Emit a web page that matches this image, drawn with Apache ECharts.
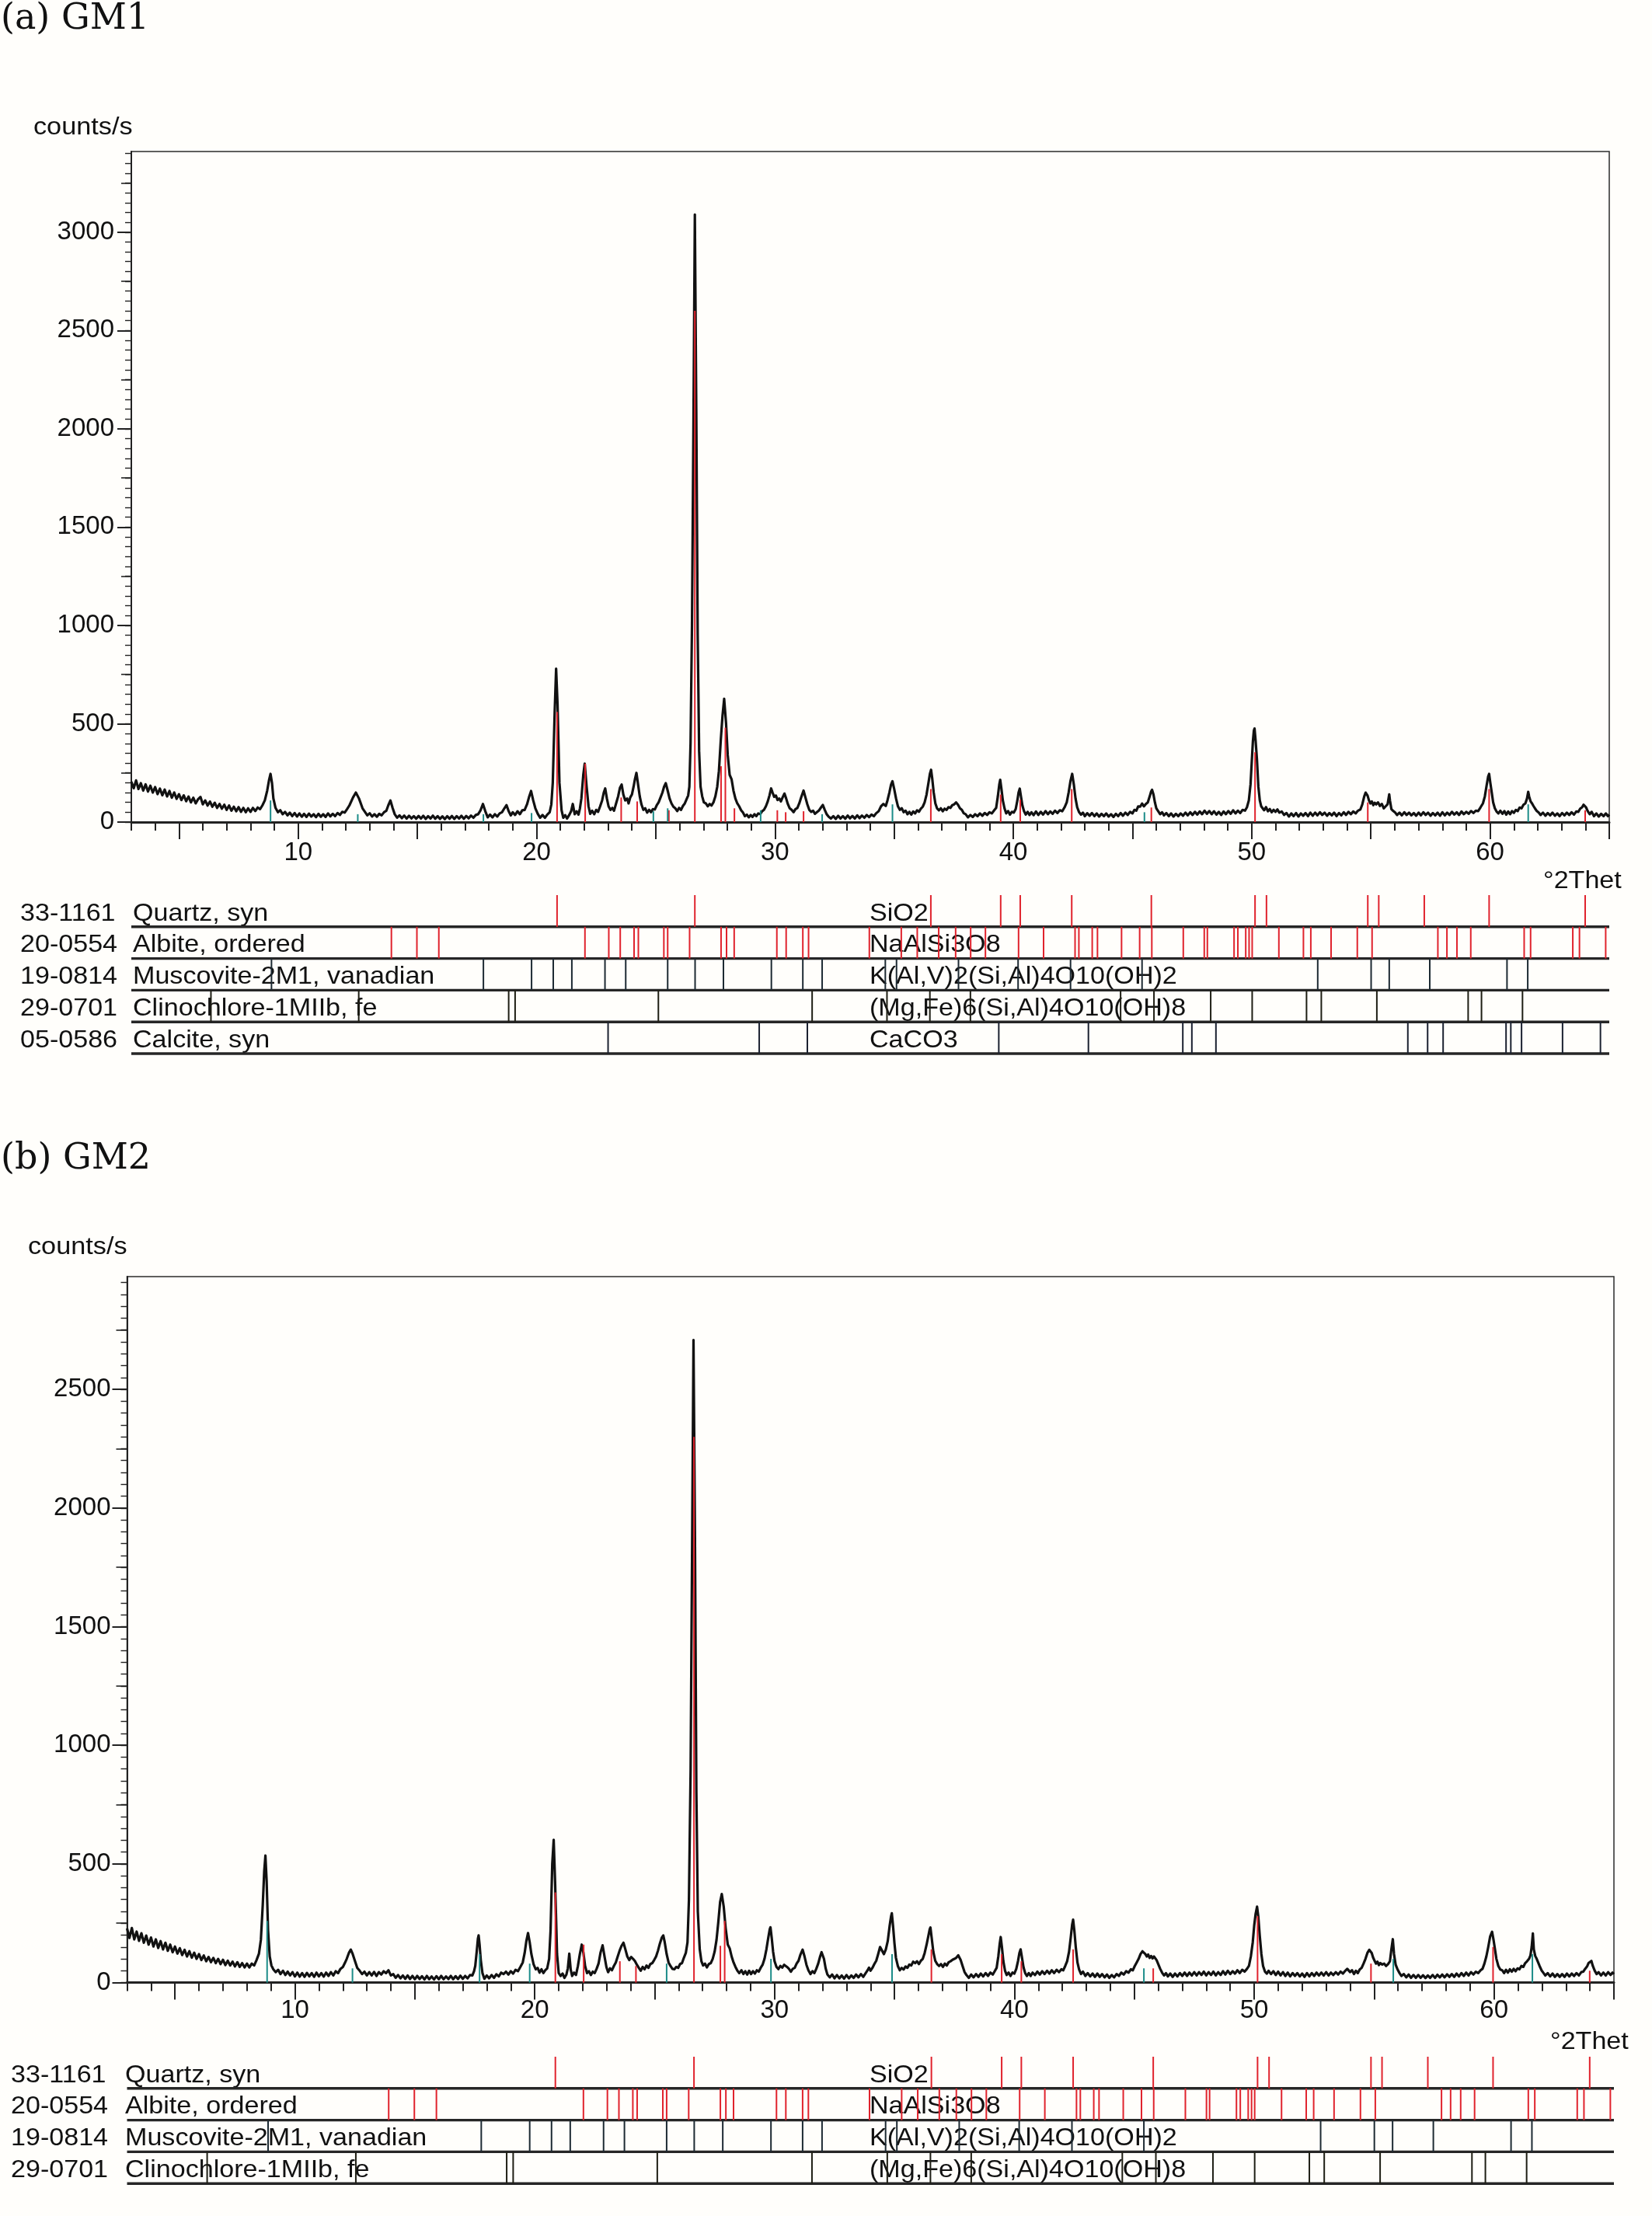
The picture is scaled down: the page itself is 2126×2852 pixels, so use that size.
<!DOCTYPE html>
<html><head><meta charset="utf-8">
<script src="https://cdn.jsdelivr.net/npm/echarts@6/dist/echarts.min.js"></script>
<style>html,body{margin:0;padding:0;background:#fffefb;}#c{width:2126px;height:2852px;}</style>
</head><body><div id="c"></div>
<script>
// ---------------- DATA ----------------
const xMin = 3, xMax = 65;
const xLabels = [10, 20, 30, 40, 50, 60];
const xMajorTicks = [5, 10, 15, 20, 25, 30, 35, 40, 45, 50, 55, 60, 65];
const yLabelsA = [0, 500, 1000, 1500, 2000, 2500, 3000];
const yMidA = [250, 750, 1250, 1750, 2250, 2750, 3250];
const yMaxA = 3410;
const yLabelsB = [0, 500, 1000, 1500, 2000, 2500];
const yMidB = [250, 750, 1250, 1750, 2250, 2750];
const yMaxB = 2975;

// GM1 pattern: flat list of (2theta, counts/s)
const gm1 = [
3.0,205, 3.1,172, 3.2,212, 3.3,168, 3.4,198, 3.5,160, 3.6,192, 3.7,155, 3.8,185, 3.9,150, 4.0,178, 4.1,142, 4.2,170, 4.3,136, 4.4,165,
4.5,130, 4.6,158, 4.7,124, 4.8,150, 4.9,118, 5.0,142, 5.1,112, 5.2,136, 5.3,106, 5.4,130, 5.5,100, 5.6,124, 5.7,95, 5.8,116, 5.9,128,
6.0,90, 6.1,110, 6.2,84, 6.3,104, 6.4,78, 6.5,98, 6.6,72, 6.7,92, 6.8,68, 6.9,88, 7.0,62, 7.1,84, 7.2,58, 7.3,78, 7.4,55, 7.5,76, 7.6,52,
7.7,72, 7.8,50, 7.9,70, 8.0,52, 8.1,72, 8.2,56, 8.3,74, 8.4,66, 8.5,85, 8.6,110, 8.7,160, 8.78,215, 8.84,245, 8.9,200, 8.96,120, 9.05,72,
9.15,50, 9.25,60, 9.35,40, 9.45,52, 9.55,34, 9.65,48, 9.75,30, 9.85,46, 9.95,28, 10.05,44, 10.15,27, 10.25,42, 10.35,26, 10.45,43,
10.55,28, 10.65,40, 10.75,25, 10.85,42, 10.95,27, 11.05,40, 11.15,26, 11.25,44, 11.35,29, 11.45,42, 11.55,30, 11.65,46, 11.75,36,
11.85,52, 11.95,48, 12.05,66, 12.15,85, 12.3,125, 12.42,150, 12.55,120, 12.7,70, 12.8,52, 12.9,34, 13.0,45, 13.1,28, 13.2,40, 13.3,27,
13.4,42, 13.5,34, 13.6,50, 13.7,58, 13.78,85, 13.87,110, 13.96,72, 14.05,40, 14.15,22, 14.25,34, 14.35,20, 14.45,33, 14.55,18, 14.65,32,
14.75,19, 14.85,30, 14.95,17, 15.05,31, 15.15,18, 15.25,32, 15.35,16, 15.45,30, 15.55,18, 15.65,33, 15.75,17, 15.85,30, 15.95,16,
16.05,29, 16.15,15, 16.25,30, 16.35,17, 16.45,31, 16.55,16, 16.65,30, 16.75,18, 16.85,32, 16.95,17, 17.05,31, 17.15,19, 17.25,33,
17.35,22, 17.45,36, 17.55,40, 17.65,60, 17.75,92, 17.85,55, 17.95,24, 18.05,38, 18.15,24, 18.25,40, 18.35,28, 18.45,44, 18.55,50,
18.65,70, 18.74,86, 18.83,55, 18.92,34, 19.0,50, 19.1,36, 19.2,55, 19.3,40, 19.4,60, 19.5,62, 19.6,90, 19.68,125, 19.77,158, 19.86,110,
19.95,70, 20.05,42, 20.15,22, 20.25,36, 20.35,22, 20.45,38, 20.55,50, 20.62,90, 20.68,200, 20.76,560, 20.82,780, 20.88,600, 20.96,200,
21.05,60, 21.12,22, 21.2,35, 21.28,18, 21.36,34, 21.45,55, 21.52,92, 21.6,40, 21.68,55, 21.76,38, 21.82,70, 21.88,120, 21.96,240,
22.02,297, 22.1,180, 22.18,80, 22.25,42, 22.33,58, 22.42,40, 22.5,62, 22.58,52, 22.66,78, 22.75,110, 22.82,150, 22.88,171, 22.95,120,
23.02,80, 23.1,62, 23.18,72, 23.25,58, 23.33,92, 23.42,130, 23.5,175, 23.57,191, 23.64,140, 23.72,110, 23.8,120, 23.86,95, 23.93,125,
24.0,140, 24.07,180, 24.13,220, 24.19,250, 24.26,190, 24.33,130, 24.4,90, 24.48,62, 24.56,70, 24.64,48, 24.72,62, 24.8,50, 24.88,66,
24.96,64, 25.04,85, 25.12,100, 25.2,125, 25.28,150, 25.35,180, 25.42,198, 25.5,160, 25.58,120, 25.66,95, 25.74,78, 25.82,70, 25.9,56,
25.98,72, 26.06,62, 26.14,82, 26.22,95, 26.3,118, 26.36,135, 26.41,180, 26.46,400, 26.52,1000, 26.58,2000, 26.64,3090, 26.7,2100,
26.76,950, 26.82,360, 26.88,180, 26.95,130, 27.02,100, 27.1,95, 27.18,80, 27.26,92, 27.34,84, 27.42,100, 27.5,130, 27.58,180, 27.65,260,
27.73,420, 27.8,540, 27.87,627, 27.95,500, 28.02,340, 28.1,240, 28.18,218, 28.26,160, 28.34,120, 28.42,95, 28.5,80, 28.58,60, 28.66,48,
28.74,30, 28.82,38, 28.9,24, 28.98,36, 29.06,26, 29.14,40, 29.22,30, 29.3,44, 29.38,40, 29.46,55, 29.54,62, 29.62,80, 29.7,105, 29.77,135,
29.84,171, 29.9,150, 29.97,128, 30.04,135, 30.11,112, 30.18,120, 30.25,105, 30.32,125, 30.4,145, 30.47,120, 30.54,92, 30.62,70, 30.7,62,
30.78,50, 30.86,66, 30.94,72, 31.02,95, 31.1,125, 31.2,160, 31.28,125, 31.36,90, 31.44,62, 31.52,52, 31.6,58, 31.68,42, 31.76,50,
31.84,58, 31.92,72, 32.01,87, 32.09,62, 32.17,40, 32.25,28, 32.35,18, 32.45,30, 32.55,16, 32.65,32, 32.75,18, 32.85,30, 32.95,17,
33.05,33, 33.15,19, 33.25,31, 33.35,18, 33.45,34, 33.55,20, 33.65,33, 33.75,22, 33.85,36, 33.95,25, 34.05,38, 34.15,30, 34.25,45,
34.35,55, 34.45,80, 34.55,92, 34.65,82, 34.72,110, 34.8,150, 34.87,190, 34.93,208, 35.0,170, 35.08,120, 35.16,80, 35.24,62, 35.32,70,
35.4,50, 35.48,58, 35.56,40, 35.64,52, 35.72,38, 35.8,54, 35.88,44, 35.96,60, 36.04,52, 36.12,68, 36.2,78, 36.28,100, 36.36,140,
36.44,200, 36.5,245, 36.55,266, 36.6,220, 36.66,150, 36.73,95, 36.8,70, 36.88,60, 36.96,70, 37.04,55, 37.12,68, 37.2,62, 37.28,76,
37.36,72, 37.44,86, 37.52,90, 37.6,100, 37.68,88, 37.76,70, 37.84,62, 37.92,45, 38.0,40, 38.1,24, 38.2,36, 38.3,26, 38.4,40, 38.5,30,
38.6,44, 38.7,32, 38.8,46, 38.9,36, 39.0,50, 39.1,44, 39.2,60, 39.28,72, 39.35,130, 39.41,190, 39.45,215, 39.5,170, 39.56,110, 39.63,70,
39.7,44, 39.78,56, 39.86,38, 39.94,52, 40.02,48, 40.1,66, 40.17,110, 40.22,150, 40.27,170, 40.32,130, 40.38,85, 40.45,55, 40.52,38,
40.6,52, 40.68,36, 40.76,50, 40.85,35, 40.95,54, 41.05,36, 41.15,52, 41.25,38, 41.35,56, 41.45,40, 41.55,54, 41.65,42, 41.75,58,
41.85,46, 41.95,60, 42.05,55, 42.15,75, 42.24,100, 42.32,150, 42.4,210, 42.47,245, 42.54,190, 42.61,120, 42.68,75, 42.76,50, 42.84,38,
42.92,48, 43.0,30, 43.1,45, 43.2,32, 43.3,46, 43.4,30, 43.5,44, 43.6,28, 43.7,42, 43.8,30, 43.9,44, 44.0,28, 44.1,40, 44.2,26, 44.3,42,
44.4,30, 44.5,46, 44.6,32, 44.7,48, 44.8,36, 44.9,52, 45.0,44, 45.08,62, 45.16,58, 45.24,80, 45.32,78, 45.4,94, 45.48,80, 45.56,92,
45.64,100, 45.72,130, 45.78,155, 45.82,164, 45.88,140, 45.94,100, 46.0,70, 46.08,55, 46.16,40, 46.24,50, 46.32,34, 46.42,46, 46.52,30,
46.62,44, 46.72,28, 46.82,42, 46.92,30, 47.02,44, 47.12,32, 47.22,48, 47.32,34, 47.42,50, 47.52,36, 47.62,52, 47.72,38, 47.82,54,
47.92,40, 48.02,58, 48.12,42, 48.22,56, 48.32,40, 48.42,55, 48.52,38, 48.62,52, 48.72,36, 48.82,54, 48.92,40, 49.02,56, 49.12,42,
49.22,60, 49.32,44, 49.42,58, 49.52,46, 49.62,62, 49.72,58, 49.8,75, 49.88,110, 49.95,190, 50.0,300, 50.05,410, 50.09,465, 50.12,476,
50.16,420, 50.22,320, 50.28,180, 50.34,110, 50.4,80, 50.46,74, 50.52,60, 50.6,76, 50.68,55, 50.76,66, 50.84,50, 50.92,62, 51.0,52,
51.08,64, 51.16,48, 51.26,54, 51.36,36, 51.46,46, 51.56,28, 51.66,44, 51.76,30, 51.86,46, 51.96,28, 52.06,44, 52.16,32, 52.26,46,
52.36,30, 52.46,48, 52.56,32, 52.66,48, 52.76,34, 52.86,50, 52.96,36, 53.06,48, 53.16,32, 53.26,46, 53.36,34, 53.46,48, 53.56,30,
53.66,46, 53.76,34, 53.86,50, 53.96,36, 54.06,52, 54.16,40, 54.26,54, 54.36,44, 54.46,58, 54.56,64, 54.64,90, 54.72,130, 54.78,150,
54.81,154, 54.86,135, 54.92,110, 54.98,95, 55.04,105, 55.1,86, 55.16,98, 55.22,90, 55.3,100, 55.38,82, 55.46,92, 55.54,70, 55.62,80,
55.7,90, 55.74,120, 55.77,141, 55.8,110, 55.86,66, 55.94,56, 56.02,48, 56.1,36, 56.2,48, 56.3,34, 56.4,50, 56.5,36, 56.6,48, 56.7,34,
56.8,46, 56.9,32, 57.0,48, 57.1,34, 57.2,50, 57.3,36, 57.4,48, 57.5,32, 57.6,46, 57.7,34, 57.8,48, 57.9,32, 58.0,50, 58.1,34, 58.2,48,
58.3,36, 58.4,52, 58.5,38, 58.6,50, 58.7,36, 58.8,54, 58.9,40, 59.0,52, 59.1,42, 59.2,56, 59.3,46, 59.4,58, 59.5,56, 59.6,75, 59.7,95,
59.78,130, 59.86,190, 59.92,232, 59.96,245, 60.01,200, 60.07,150, 60.13,100, 60.2,70, 60.27,54, 60.35,44, 60.43,58, 60.52,42, 60.6,56,
60.68,38, 60.76,54, 60.84,40, 60.92,56, 61.0,47, 61.08,62, 61.16,56, 61.24,74, 61.32,70, 61.4,88, 61.48,95, 61.55,120, 61.6,154,
61.64,130, 61.7,105, 61.76,95, 61.82,82, 61.88,70, 61.96,56, 62.04,48, 62.12,36, 62.22,48, 62.32,32, 62.42,46, 62.52,34, 62.62,48,
62.72,32, 62.82,44, 62.92,30, 63.02,46, 63.12,34, 63.22,48, 63.32,36, 63.42,50, 63.52,38, 63.62,54, 63.7,52, 63.78,68, 63.86,75,
63.92,88, 63.96,90, 64.02,76, 64.1,55, 64.18,40, 64.26,52, 64.36,30, 64.46,44, 64.56,28, 64.66,42, 64.76,30, 64.86,44, 64.94,30, 65.0,38
];

// GM2 pattern
const gm2 = [
3.0,228, 3.1,188, 3.2,230, 3.3,182, 3.4,215, 3.5,176, 3.6,208, 3.7,168, 3.8,198, 3.9,160, 4.0,190, 4.1,152, 4.2,182, 4.3,146, 4.4,175,
4.5,140, 4.6,168, 4.7,134, 4.8,160, 4.9,128, 5.0,152, 5.1,122, 5.2,145, 5.3,116, 5.4,138, 5.5,110, 5.6,132, 5.7,105, 5.8,126, 5.9,100,
6.0,120, 6.1,95, 6.2,114, 6.3,90, 6.4,108, 6.5,86, 6.6,104, 6.7,82, 6.8,100, 6.9,78, 7.0,96, 7.1,74, 7.2,92, 7.3,72, 7.4,88, 7.5,68,
7.6,86, 7.7,66, 7.8,82, 7.9,64, 8.0,80, 8.1,64, 8.2,80, 8.3,72, 8.4,95, 8.5,122, 8.58,180, 8.66,330, 8.72,470, 8.77,535, 8.82,430,
8.88,220, 8.95,110, 9.02,72, 9.1,56, 9.2,44, 9.3,54, 9.4,36, 9.5,50, 9.6,32, 9.7,46, 9.8,30, 9.9,44, 10.0,26, 10.1,42, 10.2,25, 10.3,40,
10.4,24, 10.5,41, 10.6,26, 10.7,40, 10.8,24, 10.9,42, 11.0,26, 11.1,40, 11.2,25, 11.3,42, 11.4,28, 11.5,44, 11.6,30, 11.7,48, 11.8,40,
11.9,58, 12.0,66, 12.08,82, 12.16,100, 12.25,125, 12.33,139, 12.41,120, 12.5,92, 12.6,62, 12.7,50, 12.8,36, 12.9,46, 13.0,30, 13.1,44,
13.2,30, 13.3,45, 13.4,28, 13.5,44, 13.6,34, 13.7,48, 13.8,40, 13.9,52, 14.0,30, 14.1,36, 14.2,20, 14.3,32, 14.4,18, 14.5,30, 14.6,16,
14.7,30, 14.8,15, 14.9,28, 15.0,14, 15.1,28, 15.2,15, 15.3,27, 15.4,13, 15.5,28, 15.6,14, 15.7,26, 15.8,13, 15.9,27, 16.0,14, 16.1,28,
16.2,14, 16.3,26, 16.4,15, 16.5,28, 16.6,14, 16.7,27, 16.8,15, 16.9,29, 17.0,16, 17.1,28, 17.2,18, 17.3,32, 17.4,30, 17.47,48, 17.52,70,
17.58,130, 17.63,185, 17.66,199, 17.7,160, 17.75,95, 17.82,40, 17.9,16, 18.0,30, 18.1,18, 18.2,32, 18.3,20, 18.4,35, 18.5,26, 18.6,42,
18.7,36, 18.8,46, 18.9,34, 19.0,48, 19.1,38, 19.2,54, 19.3,48, 19.4,66, 19.5,85, 19.58,125, 19.65,175, 19.72,209, 19.79,170, 19.86,120,
19.95,78, 20.04,56, 20.12,62, 20.2,42, 20.28,56, 20.36,40, 20.44,52, 20.52,60, 20.6,100, 20.66,220, 20.73,500, 20.79,602, 20.85,420,
20.93,120, 21.0,40, 21.08,28, 21.16,38, 21.24,20, 21.32,34, 21.38,60, 21.44,122, 21.5,55, 21.56,28, 21.64,42, 21.72,32, 21.8,70,
21.88,120, 21.96,160, 22.03,125, 22.1,70, 22.18,40, 22.26,48, 22.34,32, 22.42,46, 22.5,40, 22.58,58, 22.66,80, 22.74,125, 22.83,157,
22.91,110, 22.99,65, 23.06,44, 23.14,60, 23.22,52, 23.3,70, 23.38,85, 23.46,110, 23.54,135, 23.62,155, 23.7,168, 23.78,140, 23.86,110,
23.94,95, 24.02,108, 24.1,100, 24.18,90, 24.26,75, 24.34,62, 24.42,50, 24.5,66, 24.58,56, 24.66,72, 24.74,62, 24.82,78, 24.9,82,
24.98,95, 25.06,110, 25.14,135, 25.22,165, 25.3,190, 25.36,199, 25.42,170, 25.5,120, 25.58,85, 25.66,70, 25.74,58, 25.82,56, 25.9,66,
25.98,62, 26.06,78, 26.14,82, 26.22,105, 26.3,125, 26.37,170, 26.43,350, 26.5,900, 26.56,1800, 26.62,2708, 26.68,1900, 26.74,800,
26.8,300, 26.88,140, 26.95,90, 27.02,72, 27.1,80, 27.18,64, 27.26,78, 27.34,82, 27.42,100, 27.5,130, 27.58,180, 27.65,250, 27.73,340,
27.8,373, 27.88,320, 27.96,230, 28.05,160, 28.13,144, 28.21,110, 28.29,85, 28.37,66, 28.45,50, 28.53,40, 28.62,52, 28.7,36, 28.78,48,
28.86,34, 28.94,50, 29.02,36, 29.1,48, 29.18,38, 29.26,52, 29.34,46, 29.42,62, 29.5,75, 29.58,100, 29.66,140, 29.74,190, 29.8,225,
29.83,233, 29.88,190, 29.94,130, 30.0,90, 30.08,66, 30.16,57, 30.24,70, 30.32,63, 30.4,75, 30.45,79, 30.52,66, 30.6,58, 30.68,46,
30.76,58, 30.84,62, 30.92,80, 31.0,92, 31.08,118, 31.17,139, 31.25,110, 31.33,75, 31.41,52, 31.5,36, 31.58,48, 31.66,40, 31.74,58,
31.82,80, 31.9,110, 31.96,128, 32.0,134, 32.06,100, 32.13,60, 32.2,35, 32.3,22, 32.4,34, 32.5,18, 32.6,32, 32.7,18, 32.8,30, 32.9,17,
33.0,32, 33.1,18, 33.2,30, 33.3,20, 33.4,34, 33.5,22, 33.6,36, 33.7,24, 33.8,40, 33.88,52, 33.94,63, 34.0,50, 34.08,62, 34.16,78,
34.24,92, 34.32,120, 34.4,150, 34.48,135, 34.56,120, 34.64,140, 34.72,175, 34.8,240, 34.86,280, 34.89,292, 34.94,240, 35.0,165,
35.06,105, 35.14,70, 35.22,52, 35.3,62, 35.38,55, 35.46,68, 35.54,62, 35.62,76, 35.7,72, 35.78,88, 35.86,82, 35.94,90, 36.02,78,
36.1,92, 36.18,100, 36.26,125, 36.34,160, 36.42,200, 36.47,225, 36.5,232, 36.55,190, 36.62,130, 36.7,92, 36.78,78, 36.86,70, 36.94,78,
37.02,66, 37.1,80, 37.18,72, 37.26,86, 37.34,90, 37.42,96, 37.5,100, 37.58,105, 37.66,115, 37.7,118, 37.76,95, 37.84,70, 37.92,45,
38.0,32, 38.1,20, 38.2,34, 38.3,22, 38.4,36, 38.5,24, 38.6,38, 38.7,26, 38.8,40, 38.9,28, 39.0,42, 39.1,34, 39.18,48, 39.26,62,
39.33,110, 39.39,165, 39.43,192, 39.48,150, 39.54,90, 39.61,50, 39.68,32, 39.76,42, 39.84,28, 39.92,42, 40.0,38, 40.08,58, 40.15,90,
40.21,125, 40.26,140, 40.31,110, 40.38,65, 40.45,40, 40.52,28, 40.6,40, 40.68,28, 40.76,42, 40.86,32, 40.96,46, 41.06,34, 41.16,48,
41.26,36, 41.36,50, 41.46,38, 41.56,52, 41.66,40, 41.76,54, 41.86,44, 41.96,56, 42.04,52, 42.12,70, 42.2,90, 42.28,130, 42.35,190,
42.41,245, 42.45,265, 42.5,220, 42.56,150, 42.63,85, 42.7,55, 42.78,36, 42.86,46, 42.96,28, 43.06,40, 43.16,26, 43.26,38, 43.36,24,
43.46,38, 43.56,24, 43.66,36, 43.76,22, 43.86,34, 43.96,20, 44.06,32, 44.16,22, 44.26,36, 44.36,28, 44.46,42, 44.56,34, 44.66,48,
44.76,42, 44.86,56, 44.94,52, 45.02,70, 45.1,85, 45.18,100, 45.26,120, 45.34,132, 45.4,137, 45.46,120, 45.52,110, 45.58,118, 45.64,104,
45.7,112, 45.76,102, 45.82,110, 45.87,112, 45.93,95, 46.0,78, 46.08,58, 46.16,42, 46.24,30, 46.32,40, 46.4,26, 46.5,38, 46.6,24,
46.7,38, 46.8,26, 46.9,40, 47.0,28, 47.1,42, 47.2,28, 47.3,42, 47.4,30, 47.5,44, 47.6,30, 47.7,44, 47.8,32, 47.9,46, 48.0,30, 48.1,44,
48.2,32, 48.3,46, 48.4,30, 48.5,44, 48.6,32, 48.7,48, 48.8,34, 48.9,50, 49.0,36, 49.1,48, 49.2,38, 49.3,52, 49.4,40, 49.5,54, 49.6,46,
49.7,58, 49.78,70, 49.86,110, 49.94,170, 50.0,240, 50.06,290, 50.12,320, 50.17,280, 50.23,200, 50.3,120, 50.37,70, 50.45,46, 50.53,38,
50.6,50, 50.7,36, 50.8,48, 50.9,32, 51.0,46, 51.1,30, 51.2,44, 51.3,28, 51.4,42, 51.5,26, 51.6,40, 51.7,28, 51.8,40, 51.9,26, 52.0,38,
52.1,24, 52.2,40, 52.3,26, 52.4,40, 52.5,28, 52.6,42, 52.7,30, 52.8,42, 52.9,30, 53.0,44, 53.1,30, 53.2,42, 53.3,32, 53.4,44, 53.5,34,
53.6,46, 53.7,38, 53.8,50, 53.88,58, 53.94,63, 54.0,44, 54.08,52, 54.16,36, 54.24,50, 54.32,40, 54.4,55, 54.48,62, 54.56,80, 54.64,100,
54.72,125, 54.8,138, 54.85,140, 54.9,125, 54.96,105, 55.02,92, 55.08,80, 55.14,88, 55.2,74, 55.26,82, 55.34,76, 55.42,80, 55.5,70,
55.58,78, 55.66,90, 55.72,140, 55.78,183, 55.83,120, 55.9,75, 55.98,55, 56.06,40, 56.14,28, 56.24,36, 56.34,22, 56.44,34, 56.54,20,
56.64,32, 56.74,20, 56.84,32, 56.94,20, 57.04,31, 57.14,19, 57.24,30, 57.34,20, 57.44,32, 57.54,20, 57.64,33, 57.74,22, 57.84,34,
57.94,22, 58.04,35, 58.14,24, 58.24,36, 58.34,24, 58.44,38, 58.54,26, 58.64,40, 58.74,28, 58.84,42, 58.94,30, 59.04,44, 59.14,34,
59.24,46, 59.34,40, 59.44,52, 59.52,58, 59.6,80, 59.68,110, 59.76,150, 59.84,195, 59.92,214, 59.98,180, 60.04,140, 60.1,100, 60.18,70,
60.26,55, 60.34,52, 60.42,40, 60.5,54, 60.58,42, 60.66,56, 60.74,46, 60.82,58, 60.9,48, 60.98,60, 61.06,56, 61.14,70, 61.22,66,
61.3,82, 61.38,90, 61.46,100, 61.52,115, 61.57,150, 61.62,207, 61.66,140, 61.72,112, 61.78,100, 61.84,85, 61.9,70, 61.98,52, 62.06,41,
62.14,30, 62.24,40, 62.34,26, 62.44,38, 62.54,24, 62.64,36, 62.74,24, 62.84,36, 62.94,24, 63.04,38, 63.14,26, 63.24,38, 63.34,28,
63.44,40, 63.54,30, 63.64,44, 63.72,46, 63.8,58, 63.88,68, 63.94,82, 64.0,88, 64.06,91, 64.12,70, 64.2,50, 64.28,36, 64.36,44, 64.46,30,
64.56,42, 64.66,30, 64.76,44, 64.86,32, 64.94,42, 65.0,36
];

// reference stick overlays inside the patterns (2theta, counts/s)
const overlayRedA = [20.86,560, 22.04,297, 23.55,125, 24.22,105, 25.55,60, 26.64,2600, 27.74,284, 27.92,480, 28.3,70, 30.1,60, 30.45,50,
  31.2,55, 36.54,168, 39.47,140, 40.29,114, 42.45,168, 45.79,74, 50.14,355, 54.87,100, 59.96,168, 63.99,60];
const overlayTealA = [8.84,110, 12.5,40, 17.77,40, 19.79,46, 24.9,55, 25.5,70, 29.4,60, 31.98,40, 34.93,90, 45.5,50, 61.6,90];
const overlayRedB = [20.86,380, 22.04,160, 23.55,90, 24.22,70, 26.64,2300, 27.74,155, 27.92,260, 36.54,140, 39.47,120, 40.29,90,
  42.45,140, 45.79,60, 50.14,280, 54.87,80, 59.96,150, 63.99,50];
const overlayTealB = [8.84,260, 12.4,60, 17.7,120, 19.79,80, 25.5,80, 29.85,100, 34.9,120, 45.4,60, 55.8,100, 61.6,120];

// reference card line positions (2theta)
const quartzLines = [20.86, 26.64, 36.54, 39.47, 40.29, 42.45, 45.79, 50.14, 50.62, 54.87, 55.33, 57.24, 59.96, 63.99];
const albiteLines = [13.91, 14.98, 15.90, 22.03, 23.03, 23.51, 24.09, 24.27, 25.34, 25.50, 26.42, 27.74, 27.97, 28.29, 30.08, 30.47,
  31.17, 31.41, 33.96, 35.30, 35.97, 36.87, 37.58, 38.21, 38.83, 40.22, 41.27, 42.59, 42.75, 43.31, 43.53, 44.54, 45.30, 45.81, 47.13,
  48.01, 48.14, 49.26, 49.42, 49.75, 49.89, 50.02, 51.14, 52.17, 52.48, 53.33, 54.43, 55.05, 57.81, 58.19, 58.61, 59.19, 61.43, 61.70,
  63.47, 63.75, 64.85];
const muscoviteLines = [8.88, 17.77, 19.79, 20.70, 21.48, 22.87, 23.74, 25.50, 26.65, 27.84, 29.85, 31.17, 31.98, 34.63, 35.10, 37.70,
  40.20, 42.40, 45.40, 52.77, 55.01, 55.77, 57.47, 60.71, 61.58];
const clinochloreLines = [6.34, 12.54, 18.83, 19.10, 25.11, 31.56, 34.70, 36.50, 38.20, 44.50, 45.90, 48.28, 50.02, 52.30, 52.92,
  55.25, 59.08, 59.64, 61.36];
const calciteLines = [23.00, 29.34, 31.36, 39.39, 43.15, 47.11, 47.49, 48.50, 56.55, 57.38, 58.03, 60.67, 60.87, 61.32, 63.04, 64.63];

const cardCodes = ['33-1161', '20-0554', '19-0814', '29-0701', '05-0586'];
const cardNames = ['Quartz, syn', 'Albite, ordered', 'Muscovite-2M1, vanadian', 'Clinochlore-1MIIb, fe', 'Calcite, syn'];
const cardFormulas = ['SiO2', 'NaAlSi3O8', 'K(Al,V)2(Si,Al)4O10(OH)2', '(Mg,Fe)6(Si,Al)4O10(OH)8', 'CaCO3'];
const cardLinesA = [quartzLines, albiteLines, muscoviteLines, clinochloreLines, calciteLines];
const cardLinesB = [quartzLines, albiteLines, muscoviteLines, clinochloreLines];

// ---------------- LAYOUT / STYLE ----------------
const SANS = 'Liberation Sans, Arial, sans-serif';
const SERIF = 'DejaVu Serif, serif';
const INK = '#111111';
const RED = '#e0232d';
const TEAL = '#1c8c88';
const CARD_COLORS = [RED, RED, '#1d2a33', '#1e1e14', '#1b2130'];

const P = {
  a: {left: 169, top: 195, width: 1902, height: 863, stickTop: 1152, rowH: 40.8, nRows: 5,
      yMax: yMaxA, yLab: yLabelsA, yMid: yMidA, tickMajor: 18, tickMid: 13, tickMinor: 8, yMargin: 22, xMargin: 23,
      title: '(a) GM1', titleY: 25, countsY: 164, countsX: 43, thetX: 1986, thetY: 1134, codeX: 26, nameX: 171, formX: 1119,
      pattern: gm1, red: overlayRedA, teal: overlayTealA, lines: cardLinesA},
  b: {left: 163.5, top: 1643, width: 1913.5, height: 908.6, stickTop: 2647, rowH: 40.8, nRows: 4,
      yMax: yMaxB, yLab: yLabelsB, yMid: yMidB, tickMajor: 19, tickMid: 14, tickMinor: 8, yMargin: 21, xMargin: 20,
      title: '(b) GM2', titleY: 1492, countsY: 1605, countsX: 36, thetX: 1995, thetY: 2628, codeX: 14, nameX: 161, formX: 1119,
      pattern: gm2, red: overlayRedB, teal: overlayTealB, lines: cardLinesB}
};

function range(a, b, s) { const r = []; for (let v = a; v <= b + 1e-9; v += s) r.push(+v.toFixed(4)); return r; }
function pairs(flat) { const r = []; for (let i = 0; i < flat.length; i += 2) r.push([flat[i], flat[i + 1]]); return r; }
const xMinorTicks = range(xMin, xMax, 1);

const grids = [], xAxes = [], yAxes = [], series = [], graphics = [];

function lineItem(a, b, color, w) {
  return {type: 'line', shape: {x1: a[0], y1: a[1], x2: b[0], y2: b[1]}, style: {stroke: color, lineWidth: w}};
}
function txt(x, y, text, size, family, sx) {
  return {type: 'text', x: x, y: y, scaleX: sx || 1, style: {text: text, fontSize: size, fontFamily: family, fill: INK,
    verticalAlign: 'middle', align: 'left'}};
}

['a', 'b'].forEach(function (k) {
  const c = P[k];
  const gPlot = grids.length;
  grids.push({left: c.left, top: c.top, width: c.width, height: c.height, show: true, borderColor: '#2b2b2b', borderWidth: 1.5,
    backgroundColor: 'transparent', containLabel: false, outerBoundsMode: 'none'});
  const gStick = grids.length;
  grids.push({left: c.left, top: c.stickTop, width: c.width, height: c.rowH * c.nRows, show: false, containLabel: false, outerBoundsMode: 'none'});

  const axisFont = {fontSize: 33, fontFamily: SANS, color: INK, formatter: function (v) { return String(v); }};
  const xi0 = xAxes.length;
  xAxes.push({type: 'value', gridIndex: gPlot, min: xMin, max: xMax, position: 'bottom',
    axisLine: {show: true, onZero: false, lineStyle: {color: '#222', width: 3}},
    axisTick: {show: true, customValues: xMinorTicks, length: 11, lineStyle: {color: '#222', width: 2}},
    axisLabel: {show: false}, splitLine: {show: false}});
  xAxes.push({type: 'value', gridIndex: gPlot, min: xMin, max: xMax, position: 'bottom',
    axisLine: {show: false, onZero: false},
    axisTick: {show: true, customValues: xMajorTicks, length: 22, lineStyle: {color: '#222', width: 2}},
    axisLabel: Object.assign({show: true, customValues: xLabels, margin: c.xMargin}, axisFont), splitLine: {show: false}});
  const xiStick = xAxes.length;
  xAxes.push({type: 'value', gridIndex: gStick, min: xMin, max: xMax, show: false});

  const yi0 = yAxes.length;
  yAxes.push({type: 'value', gridIndex: gPlot, min: 0, max: c.yMax, position: 'left',
    axisLine: {show: true, onZero: false, lineStyle: {color: '#222', width: 2}},
    axisTick: {show: true, customValues: c.yLab, length: c.tickMajor, lineStyle: {color: '#222', width: 2}},
    axisLabel: Object.assign({show: true, customValues: c.yLab, margin: c.yMargin}, axisFont), splitLine: {show: false}});
  yAxes.push({type: 'value', gridIndex: gPlot, min: 0, max: c.yMax, position: 'left', axisLine: {show: false},
    axisTick: {show: true, customValues: c.yMid, length: c.tickMid, lineStyle: {color: '#222', width: 1.6}},
    axisLabel: {show: false}, splitLine: {show: false}});
  yAxes.push({type: 'value', gridIndex: gPlot, min: 0, max: c.yMax, position: 'left', axisLine: {show: false},
    axisTick: {show: true, customValues: range(0, c.yMax, 50), length: c.tickMinor, lineStyle: {color: '#222', width: 1.4}},
    axisLabel: {show: false}, splitLine: {show: false}});
  const yiStick = yAxes.length;
  yAxes.push({type: 'value', gridIndex: gStick, min: 0, max: c.nRows, inverse: true, show: false});

  series.push({type: 'line', xAxisIndex: xi0, yAxisIndex: yi0, data: pairs(c.pattern), showSymbol: false, symbol: 'none',
    lineStyle: {color: INK, width: 3.2, join: 'round'}, animation: false, silent: true, z: 3});
  [[c.red, RED], [c.teal, TEAL]].forEach(function (o) {
    series.push({type: 'custom', xAxisIndex: xi0, yAxisIndex: yi0, data: pairs(o[0]), animation: false, silent: true, z: 4,
      renderItem: function (p, api) {
        return lineItem(api.coord([api.value(0), 0]), api.coord([api.value(0), api.value(1)]), o[1], 2);
      }});
  });
  const rows = [];
  for (let r = 0; r < c.nRows; r++) rows.push([r]);
  series.push({type: 'custom', xAxisIndex: xiStick, yAxisIndex: yiStick, data: rows, animation: false, silent: true, clip: false, z: 2,
    renderItem: function (p, api) {
      const r = api.value(0);
      return lineItem(api.coord([xMin, r + 1]), api.coord([xMax, r + 1]), '#262626', 3.4);
    }});
  c.lines.forEach(function (arr, r) {
    series.push({type: 'custom', xAxisIndex: xiStick, yAxisIndex: yiStick, data: arr.map(function (v) { return [v, r]; }),
      animation: false, silent: true, z: 3,
      renderItem: function (p, api) {
        const v = api.value(0), rr = api.value(1);
        return lineItem(api.coord([v, rr + 1]), api.coord([v, rr]), CARD_COLORS[rr], 2);
      }});
    const ty = c.stickTop + c.rowH * (r + 1) - 17;
    graphics.push(txt(c.codeX, ty, cardCodes[r], 32, SANS, 1.065));
    graphics.push(txt(c.nameX, ty, cardNames[r], 32, SANS, 1.065));
    graphics.push(txt(c.formX, ty, cardFormulas[r], 32, SANS, 1.065));
  });

  graphics.push(txt(1, c.titleY, c.title, 46, SERIF, 1));
  graphics.push(txt(c.countsX, c.countsY, 'counts/s', 32, SANS, 1.07));
  graphics.push(txt(c.thetX, c.thetY, '°2Thet', 32, SANS, 1.065));
});

const chart = echarts.init(document.getElementById('c'), null, {renderer: 'canvas', width: 2126, height: 2852});
chart.setOption({
  backgroundColor: '#fffefb',
  animation: false,
  grid: grids, xAxis: xAxes, yAxis: yAxes, series: series,
  graphic: {elements: graphics}
});
</script></body></html>
